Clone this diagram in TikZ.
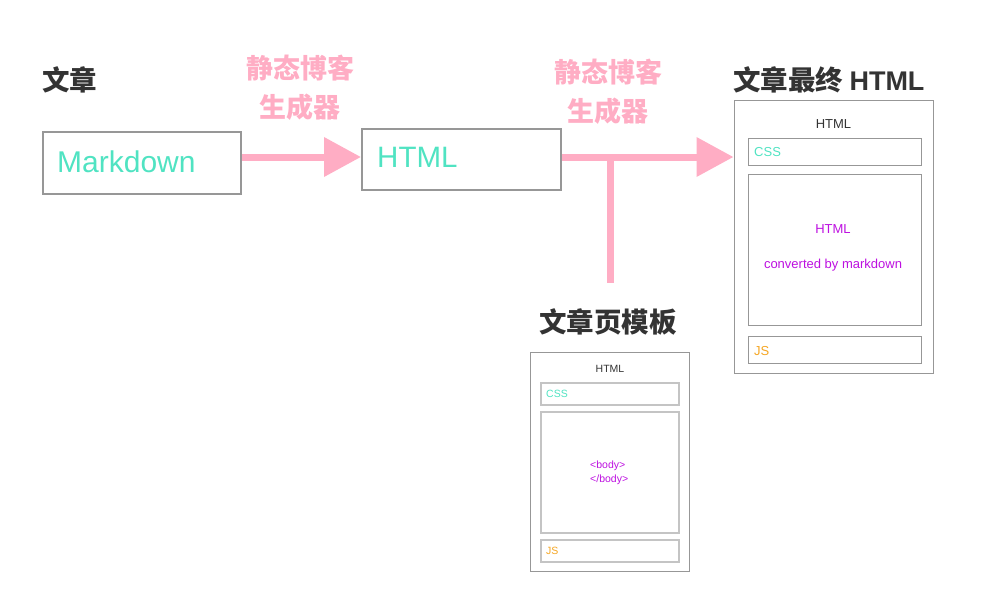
\documentclass[tikz,border=0pt]{standalone}
\usepackage{fontspec}
\setmainfont{Liberation Sans}
\newfontfamily\cjk{Noto Sans CJK SC}
\usetikzlibrary{arrows.meta}
\definecolor{pinkc}{HTML}{FFADC4}
\definecolor{tealc}{HTML}{50E3C2}
\definecolor{purpc}{HTML}{BD10E0}
\definecolor{orac}{HTML}{F5A623}
\definecolor{darkc}{HTML}{333333}
\definecolor{grayc}{HTML}{979797}
\definecolor{lgrayc}{HTML}{C4C4C4}
\begin{document}
\begin{tikzpicture}[x=1pt,y=-1pt,
  bigbox/.style={draw=grayc,line width=2pt,inner sep=0pt},
  outbox/.style={draw=grayc,line width=1pt,inner sep=0pt},
  inbox/.style={draw=grayc,line width=1pt,inner sep=0pt},
  tinbox/.style={draw=lgrayc,line width=1.6pt,inner sep=0pt},
  title/.style={font=\cjk\bfseries\fontsize{27.5}{30}\selectfont,text=darkc,inner sep=0pt},
  gen/.style={font=\cjk\bfseries\fontsize{27}{39}\selectfont,text=pinkc,align=center,inner sep=0pt},
  bigtxt/.style={font=\fontsize{#1}{30}\selectfont,text=tealc,inner sep=0pt,anchor=west},
  flow/.style={draw=pinkc,line width=7pt},
  flowarrow/.style={flow,-{Triangle[length=37pt,width=38pt]}},
  smalltxt/.style={font=\fontsize{#1}{#1}\selectfont,inner sep=0pt}
]
\useasboundingbox (0,0) rectangle (992,614);

% titles
\node[title,anchor=west] (t1) at (42,80) {文章};
\node[title,anchor=west] (t2) at (733,80) {文章最终 {\normalfont\bfseries\fontsize{27}{30}\selectfont HTML}};
\node[title] (t3) at (608,322) {文章页模板};

% generator labels
\node[gen] (g1) at (300,88) {静态博客\\生成器};
\node[gen] (g2) at (608,92) {静态博客\\生成器};

% main boxes
\node[bigbox,minimum width=198pt,minimum height=62pt] (md) at (142,163) {};
\node[bigtxt=30] (mdt) at (57,162) {Markdown};
\node[bigbox,minimum width=199pt,minimum height=61pt] (html) at (461.5,159.5) {};
\node[bigtxt=29.5] (htmlt) at (377,157) {HTML};

% final HTML page
\node[outbox,minimum width=199pt,minimum height=273pt] (fin) at (833.5,236.5) {};
\node[smalltxt=13,text=darkc] (finh) at (833.5,124) {HTML};
\node[inbox,minimum width=173pt,minimum height=27pt] (fcss) at (834.5,151.5) {};
\node[smalltxt=13,text=tealc,anchor=west] (fcsst) at (754,152) {CSS};
\node[inbox,minimum width=173pt,minimum height=151pt] (fbody) at (834.5,249.5) {};
\node[smalltxt=13,text=purpc] (fb1) at (833,229) {HTML};
\node[smalltxt=13,text=purpc] (fb2) at (833,265.5) {converted by markdown};
\node[inbox,minimum width=173pt,minimum height=27pt] (fjs) at (834.5,349.5) {};
\node[smalltxt=13,text=orac,anchor=west] (fjst) at (754,351) {JS};

% template
\node[outbox,minimum width=159pt,minimum height=219pt] (tpl) at (609.5,461.5) {};
\node[smalltxt=10.5,text=darkc] (tplh) at (610,369) {HTML};
\node[tinbox,minimum width=138pt,minimum height=22pt] (tcss) at (610,394) {};
\node[smalltxt=10.5,text=tealc,anchor=west] (tcsst) at (546,394) {CSS};
\node[tinbox,minimum width=138pt,minimum height=121pt] (tbody) at (610,472.5) {};
\node[smalltxt=10.5,text=purpc,anchor=west] (tb1) at (590,466) {<body>};
\node[smalltxt=10.5,text=purpc,anchor=west] (tb2) at (590,480) {</body>};
\node[tinbox,minimum width=138pt,minimum height=22pt] (tjs) at (610,551) {};
\node[smalltxt=10.5,text=orac,anchor=west] (tjst) at (546,551) {JS};

% connectors
\coordinate (j) at (610,157);
\coordinate (jb) at (610,283);
\draw[flowarrow] (md.east |- 0,157) -- (html.west |- 0,157);
\draw[flowarrow] (html.east |- 0,157) -- (fin.west |- 0,157);
\draw[flow] (j) -- (jb);
\end{tikzpicture}
\end{document}
